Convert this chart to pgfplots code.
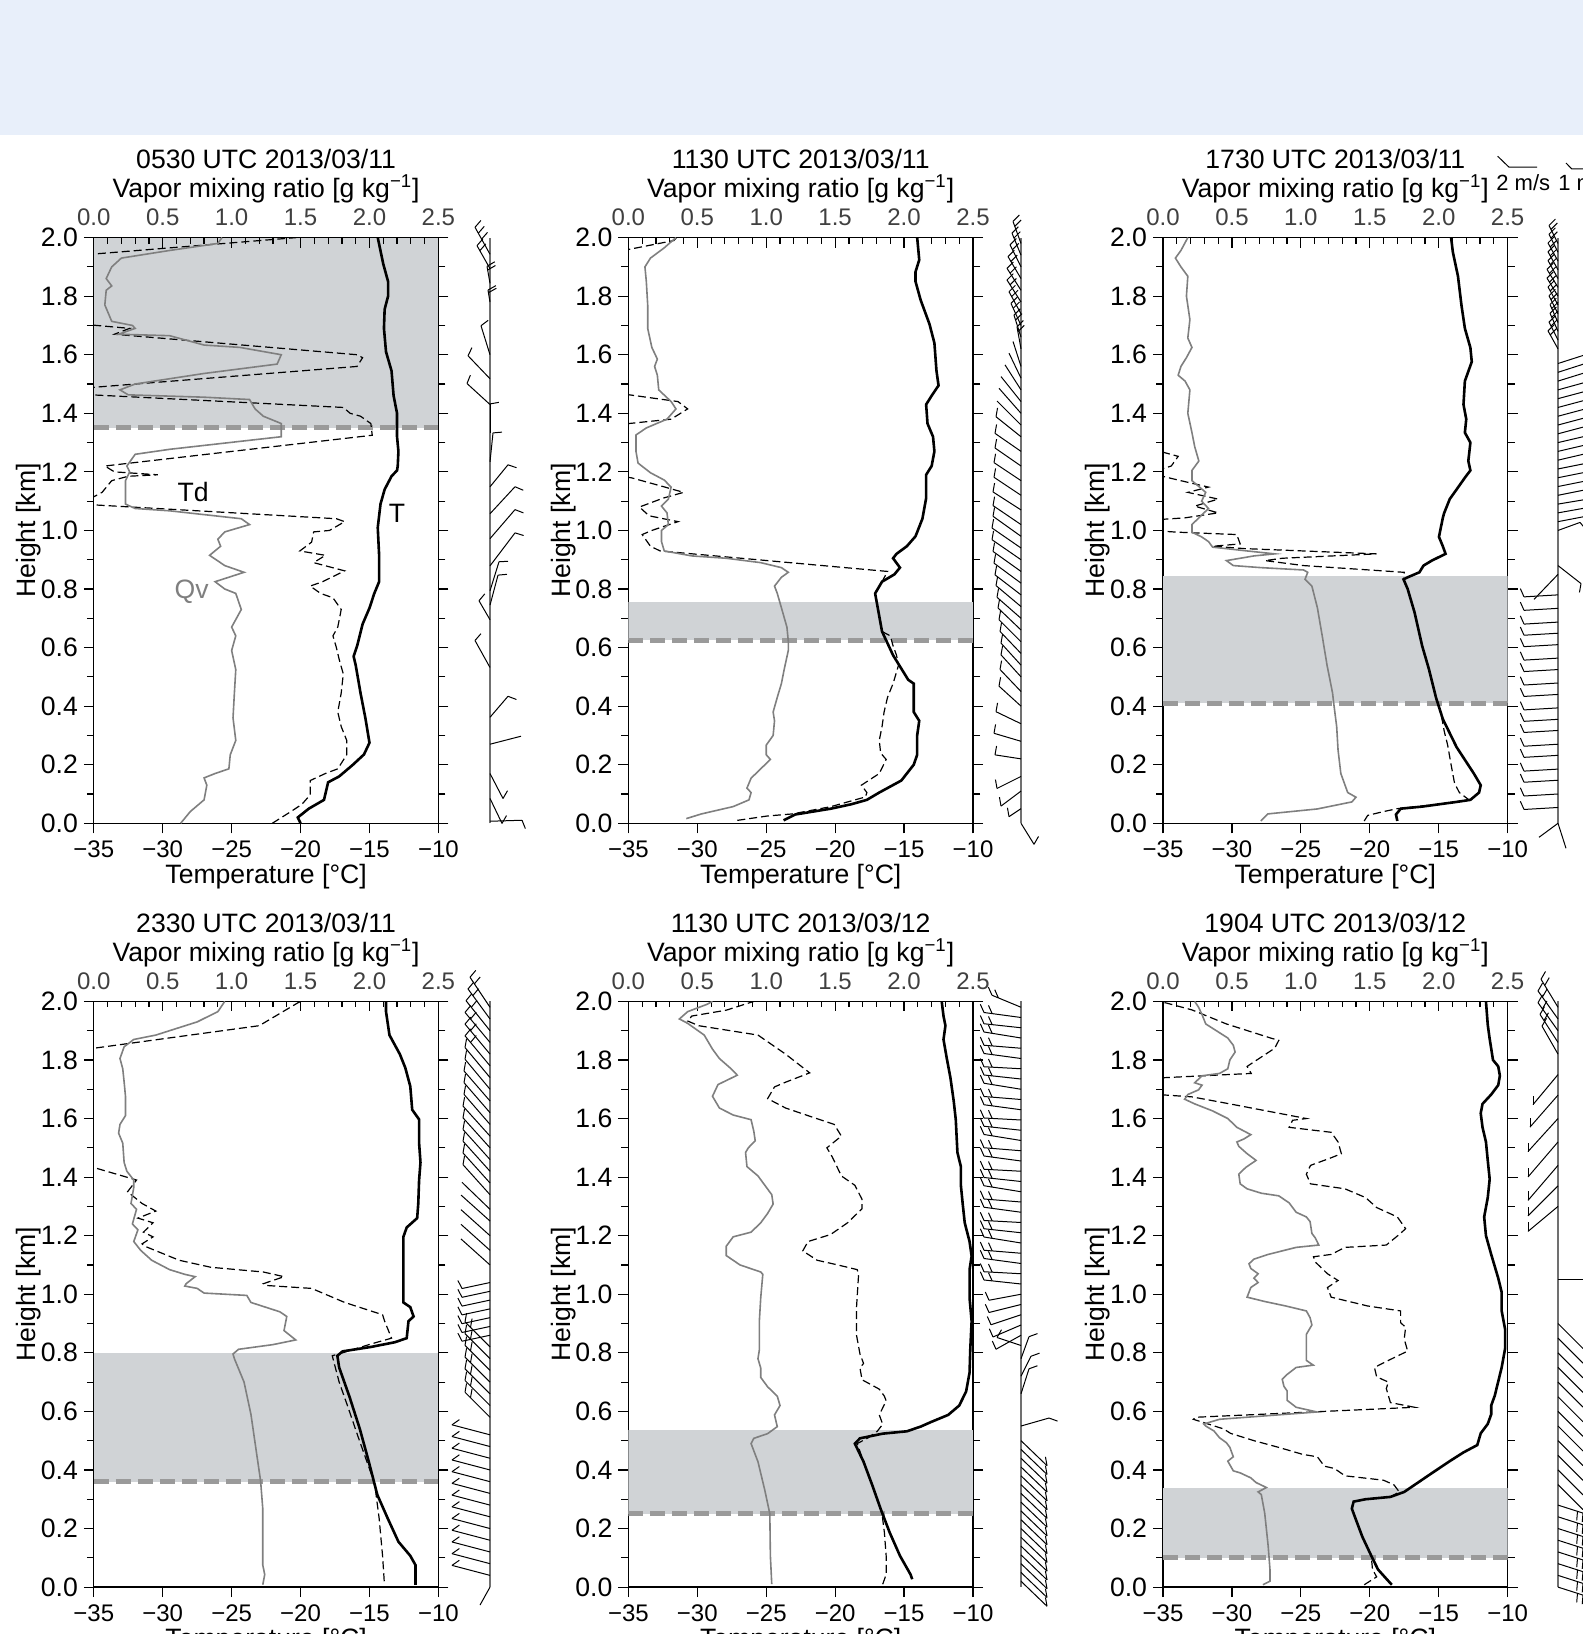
\documentclass[border=0pt]{standalone}
\usepackage{pgfplots}
\pgfplotsset{compat=1.18}
\usepackage{pgfplotstable}
\usepackage{fontspec}
\setmainfont{Liberation Sans}
\definecolor{shade}{HTML}{D0D3D6}
\definecolor{bandline}{HTML}{9A9A9A}
\definecolor{qvcol}{HTML}{7F7F7F}
\definecolor{topband}{HTML}{E8EFFA}
\definecolor{staffcol}{HTML}{707070}

\pgfplotsset{
 every axis title shift=0pt,
 Tax/.style={scale only axis, width=172.3pt, height=292.85pt, anchor=south west,
  xmin=-35, xmax=-10, ymin=0, ymax=2,
  axis line style={line width=0.7pt},
  every tick/.style={black, line width=0.6pt},
  xtick={-35,-30,-25,-20,-15,-10},
  xticklabels={−35,−30,−25,−20,−15,−10},
  ytick={0,0.2,0.4,0.6,0.8,1.0,1.2,1.4,1.6,1.8,2.0},
  yticklabels={0.0,0.2,0.4,0.6,0.8,1.0,1.2,1.4,1.6,1.8,2.0},
  minor ytick={0.1,0.3,0.5,0.7,0.9,1.1,1.3,1.5,1.7,1.9},
  xtick pos=left, ytick pos=both, yticklabel pos=left,
  tick align=outside, major tick length=5pt, minor tick length=3.5pt,
  xticklabel style={font=\fontsize{12}{14}\selectfont, anchor=base, yshift=-12.1pt},
  yticklabel style={anchor=east, inner sep=0pt, xshift=-2.8pt},
  xlabel={Temperature [°C]}, ylabel={Height [km]},
  xlabel style={at={(axis description cs:0.5,-0.1035)}, anchor=base},
  ylabel style={at={(axis description cs:-0.169,0.5)}, anchor=base},
  clip=true},
 Qax/.style={scale only axis, width=172.3pt, height=292.85pt, anchor=south west,
  xmin=0, xmax=2.5, ymin=0, ymax=2,
  axis x line*=top, axis y line=none,
  axis line style={line width=0.7pt},
  every tick/.style={black, line width=0.6pt},
  xtick={0,0.5,1,1.5,2,2.5}, xticklabels={0.0,0.5,1.0,1.5,2.0,2.5},
  minor x tick num=4, tick align=inside, major tick length=5pt, minor tick length=3pt,
  xticklabel style={font=\fontsize{12}{14}\selectfont, text=black!75, anchor=base, yshift=6pt},
  xlabel={Vapor mixing ratio [g kg\textsuperscript{−1}]},
  xlabel style={at={(axis description cs:0.5,1.0676)}, anchor=base},
  title style={at={(axis description cs:0.5,1.1175)}, anchor=base},
  clip=true},
 barbax/.style={scale only axis, width=60pt, height=292.85pt, anchor=south west,
  xmin=-60, xmax=60, ymin=0, ymax=585.7, hide axis, clip=false},
 Tline/.style={black, line width=1.3pt},
 Tdline/.style={black, line width=0.6pt, dash pattern=on 4pt off 2pt},
 Qline/.style={qvcol, line width=0.8pt},
 bandfill/.style={fill=shade, draw=none},
 bandedge/.style={bandline, line width=2.5pt, dash pattern=on 7.5pt off 3.5pt},
 barbline/.style={black, line width=0.5pt},
}

\newcommand\mainpanel[9]{%
 \begin{axis}[Tax, at={(#1,#2)}]
  \addplot[bandfill] coordinates {(-35,#4) (-10,#4) (-10,#5) (-35,#5)} -- cycle;
  \addplot[bandedge] coordinates {(-35,#4) (-10,#4)};
  \addplot[Tdline] coordinates {#7};
  \addplot[Tline] coordinates {#6};
  #9
 \end{axis}
 \begin{axis}[Qax, at={(#1,#2)}, title={#3}]
  \addplot[Qline] coordinates {#8};
 \end{axis}}

\newcommand\barbpanel[3]{%
 \begin{axis}[barbax, at={(#1,#2)}]
  \addplot[staffcol, line width=0.65pt] coordinates {(0,0) (0,585.7)};
  \addplot[barbline, quiver={u=\thisrow{dx}, v=\thisrow{dy}}] table[x expr=0, y expr=\thisrow{h}*292.85] {#3};
  \addplot[barbline, quiver={u={9*cos(\thisrow{fa})}, v={9*sin(\thisrow{fa})}}, restrict expr to domain={\thisrow{nf}}{0.5:10}] table[x expr=\thisrow{dx}, y expr=\thisrow{h}*292.85+\thisrow{dy}] {#3};
  \addplot[barbline, quiver={u={9*cos(\thisrow{fa})}, v={9*sin(\thisrow{fa})}}, restrict expr to domain={\thisrow{nf}}{1.5:10}] table[x expr=0.78*\thisrow{dx}, y expr=\thisrow{h}*292.85+0.78*\thisrow{dy}] {#3};
  \addplot[barbline, quiver={u={9*cos(\thisrow{fa})}, v={9*sin(\thisrow{fa})}}, restrict expr to domain={\thisrow{nf}}{2.5:10}] table[x expr=0.56*\thisrow{dx}, y expr=\thisrow{h}*292.85+0.56*\thisrow{dy}] {#3};
 \end{axis}}

\pgfplotstableread{
h dx dy nf fa
1.943 -15 27 3 49
1.894 -13 23 2 49
1.844 -3 17 2 30
1.78 -2 12 2 29
1.60 -9 29 1 37
1.518 -22 23 1 64
1.43 -23 21 1 68
1.333 0 29 1 10
1.234 3 29 1 5
1.149 18 22 1 -19
1.057 25 27 1 -23
0.972 25 29 1 -21
0.879 25 33 1 -17
0.794 9 29 1 3
0.745 8 30 1 5
0.695 -11 19 1 50
0.532 -15 27 1 49
0.362 18 21 1 -21
0.27 31 8 0 0
0.17 13 -25 1 60
0.085 12 -25 1 60
0.007 32 1 1 -68
}\barbA

\pgfplotstableread{
h dx dy nf fa
1.98 -8 22 2 45
1.94 -9 22 2 45
1.90 -11 22 2 45
1.86 -13 22 2 45
1.82 -14 22 2 45
1.78 -14 22 2 45
1.74 -12 22 2 45
1.70 -10 22 2 45
1.66 -7 22 2 45
1.62 -4 22 2 45
1.56 -8 25 0 0
1.52 -12 25 0 0
1.48 -16 25 0 0
1.44 -20 25 0 0
1.40 -22 25 0 0
1.36 -24 24 0 0
1.32 -25 20 1 80
1.27 -26 18 1 80
1.22 -26 18 1 80
1.17 -27 18 1 80
1.12 -27 18 1 80
1.07 -28 18 1 80
1.02 -28 19 1 80
0.98 -28 20 1 80
0.94 -29 20 1 80
0.90 -29 20 1 80
0.86 -28 20 1 80
0.82 -27 20 1 80
0.78 -26 20 1 80
0.74 -25 21 1 80
0.70 -24 21 1 80
0.66 -23 22 1 80
0.62 -22 22 1 80
0.58 -21 22 1 80
0.54 -20 22 1 80
0.50 -20 22 1 80
0.45 -21 22 1 80
0.40 -22 20 1 80
0.34 -25 12 1 80
0.28 -27 8 1 80
0.22 -26 4 1 80
0.16 -24 -12 1 100
0.11 -20 -15 1 100
0.05 -12 -8 1 100
0.0 13 -21 1 60
}\barbB

\pgfplotstableread{
h dx dy nf fa
1.98 -9 18 2 45
1.95 -9 18 2 45
1.92 -10 18 2 45
1.89 -10 18 2 45
1.86 -10 18 2 45
1.83 -11 18 2 45
1.80 -11 18 2 45
1.77 -10 18 2 45
1.74 -9 18 2 45
1.71 -8 18 2 45
1.68 -8 18 2 45
1.65 -9 18 2 45
1.62 -10 18 2 45
1.57 28 9 1 -50
1.54 28 9 1 -50
1.51 29 9 1 -50
1.48 29 8 1 -50
1.45 30 8 1 -50
1.42 30 8 1 -50
1.39 30 8 1 -50
1.36 30 8 1 -50
1.33 30 8 1 -50
1.30 30 7 1 -50
1.27 30 7 1 -50
1.24 30 7 1 -50
1.21 30 6 1 -50
1.18 30 6 1 -50
1.15 30 6 1 -50
1.12 30 6 1 -50
1.09 30 5 1 -50
1.06 28 5 1 -50
1.03 26 5 1 -50
1.00 22 8 1 -50
0.88 23 -18 1 -100
0.85 -24 -25 0 0
0.78 -34 -2 1 114
0.734 -34 -2 1 114
0.687 -34 -2 1 114
0.649 -34 -2 1 114
0.61 -34 -2 1 114
0.564 -34 -2 1 114
0.525 -34 -2 1 114
0.479 -34 -2 1 114
0.44 -34 -2 1 114
0.394 -34 -2 1 114
0.355 -34 -2 1 114
0.317 -34 -2 1 114
0.27 -34 -2 1 114
0.232 -34 -2 1 114
0.185 -34 -2 1 114
0.147 -34 -2 1 114
0.10 -34 -2 1 114
0.054 -34 -2 1 114
0.0 -19 -14 0 0
0.0 8 -25 0 0
}\barbC

\pgfplotstableread{
h dx dy nf fa
1.98 -20 30 2 50
1.94 -22 30 2 50
1.90 -24 30 2 50
1.86 -25 30 2 50
1.82 -25 30 2 50
1.78 -25 30 2 50
1.74 -25 30 1 80
1.70 -25 30 1 80
1.66 -26 30 1 80
1.62 -26 30 1 80
1.58 -26 30 1 80
1.54 -27 30 1 80
1.50 -27 30 1 80
1.46 -27 30 1 80
1.42 -27 30 1 80
1.38 -27 30 1 80
1.34 -27 30 1 80
1.29 -28 27 0 0
1.25 -29 26 0 0
1.20 -29 26 0 0
1.15 -29 26 0 0
1.10 -29 26 0 0
1.04 -28 -6 1 117
1.01 -28 -6 1 117
0.98 -28 -6 1 117
0.95 -28 -6 1 117
0.92 -28 -6 1 117
0.89 -28 -6 1 117
0.86 -28 -6 1 117
0.82 -25 25 2 80
0.78 -25 25 2 80
0.74 -25 25 2 80
0.70 -25 25 2 80
0.66 -25 25 2 80
0.62 -25 25 2 80
0.58 -25 25 2 80
0.52 -38 10 1 35
0.48 -38 10 1 35
0.44 -38 10 1 35
0.40 -38 10 1 35
0.36 -38 10 1 35
0.32 -38 10 1 35
0.28 -38 10 1 35
0.24 -38 10 1 35
0.20 -38 10 1 35
0.16 -38 10 1 35
0.12 -38 10 1 35
0.08 -38 10 1 35
0.04 -38 10 1 35
0.0 -10 -18 0 0
}\barbD

\pgfplotstableread{
h dx dy nf fa
1.98 -29 12 2 114
1.945 -37 5 2 114
1.91 -37 4 2 114
1.875 -37 6 2 114
1.84 -37 3 2 114
1.805 -37 5 2 114
1.77 -37 2 2 114
1.735 -37 4 2 114
1.70 -37 6 2 114
1.665 -37 3 2 114
1.63 -37 5 2 114
1.595 -37 2 2 114
1.56 -37 4 2 114
1.525 -37 6 2 114
1.49 -37 3 2 114
1.455 -37 5 2 114
1.42 -37 2 2 114
1.385 -37 4 2 114
1.35 -37 6 2 114
1.315 -37 3 2 114
1.28 -37 5 2 114
1.245 -37 2 2 114
1.21 -37 4 2 114
1.175 -37 6 2 114
1.14 -37 3 2 114
1.105 -37 5 2 114
1.07 -37 2 2 114
1.035 -37 4 2 114
1.00 -32 -6 1 114
0.965 -32 -8 1 114
0.93 -30 -10 1 114
0.895 -28 -12 1 114
0.86 -25 -14 1 114
0.825 -24 8 1 60
0.78 8 22 1 20
0.72 10 20 1 20
0.66 8 25 1 20
0.55 28 8 1 -20
0.50 26 -25 1 100
0.47 26 -25 1 100
0.44 26 -25 1 100
0.41 26 -25 1 100
0.38 26 -25 1 100
0.35 26 -25 1 100
0.32 26 -25 1 100
0.29 26 -25 1 100
0.26 26 -25 1 100
0.23 26 -25 1 100
0.20 26 -25 1 100
0.17 26 -25 1 100
0.14 26 -25 1 100
0.11 26 -25 1 100
0.08 26 -25 1 100
0.05 26 -25 1 100
0.02 26 -25 1 100
}\barbE

\pgfplotstableread{
h dx dy nf fa
1.98 -17 28 2 60
1.94 -20 28 2 60
1.90 -20 28 2 60
1.86 -18 28 2 60
1.82 -16 28 1 60
1.75 -25 -30 1 90
1.68 -28 -32 1 90
1.60 -30 -33 1 90
1.52 -30 -35 1 90
1.44 -30 -35 1 90
1.37 -30 -30 1 90
1.30 -30 -25 1 90
1.05 25 0 0 0
0.90 25 -25 1 45
0.85 25 -25 1 45
0.80 25 -25 1 45
0.75 25 -25 1 45
0.70 25 -25 1 45
0.65 25 -25 1 45
0.60 25 -25 1 45
0.55 25 -25 1 45
0.50 25 -25 1 45
0.45 25 -25 1 45
0.40 25 -25 1 45
0.35 25 -25 1 45
0.28 25 -8 2 -95
0.24 25 -8 2 -95
0.20 25 -8 2 -95
0.16 25 -8 2 -95
0.12 25 -8 2 -95
0.08 25 -8 2 -95
0.04 25 -8 2 -95
0.00 25 -8 2 -95
}\barbF

\begin{document}
\begin{tikzpicture}[font=\fontsize{13.3}{16}\selectfont]
\useasboundingbox (0,0) rectangle (791.5pt,817pt);
\fill[topband] (0,749.5pt) rectangle (791.5pt,817pt);

% ---------- Panel 1
\mainpanel{46.9pt}{405.35pt}{0530 UTC 2013/03/11}{1.35}{2.0}
{(-20.0,0.0) (-20.2,0.02) (-19.4,0.05) (-18.3,0.08) (-18.0,0.14) (-17.2,0.16) (-16.2,0.2) (-15.4,0.235) (-15.0,0.275) (-15.3,0.36) (-15.65,0.445) (-16.0,0.54) (-16.15,0.57) (-15.9,0.605) (-15.5,0.68) (-15.0,0.735) (-14.65,0.785) (-14.3,0.825) (-14.3,0.915) (-14.4,1.01) (-14.2,1.09) (-13.9,1.14) (-13.4,1.185) (-13.0,1.205) (-12.95,1.22) (-12.9,1.27) (-13.0,1.32) (-13.0,1.40) (-13.25,1.46) (-13.4,1.545) (-13.8,1.61) (-13.95,1.69) (-13.9,1.755) (-13.65,1.80) (-13.65,1.85) (-14.0,1.91) (-14.4,2.0)}
{(-22.05,0.0) (-20.7,0.04) (-19.9,0.065) (-19.3,0.097) (-19.3,0.146) (-18.2,0.17) (-17.3,0.186) (-16.65,0.234) (-16.65,0.283) (-17.05,0.33) (-17.3,0.38) (-17.05,0.445) (-16.9,0.51) (-17.2,0.56) (-17.4,0.6) (-17.65,0.64) (-17.3,0.67) (-17.05,0.73) (-17.65,0.77) (-18.55,0.785) (-19.3,0.81) (-18.4,0.825) (-16.8,0.862) (-19.05,0.89) (-18.2,0.915) (-20.05,0.93) (-19.2,0.96) (-19.05,0.995) (-17.9,1.0) (-16.8,1.03) (-17.4,1.04) (-36,1.09) (-34.4,1.13) (-33.7,1.17) (-32.5,1.185) (-30.35,1.19) (-33.5,1.2) (-34.2,1.22) (-14.8,1.325) (-14.9,1.365) (-15.65,1.39) (-16.4,1.40) (-16.9,1.42) (-36,1.465) (-36,1.485) (-15.9,1.56) (-15.5,1.59) (-15.9,1.60) (-33.5,1.67) (-32.4,1.69) (-36,1.705) (-36,1.94) (-20.3,2.0)}
{(0.63,0.0) (0.70,0.04) (0.80,0.08) (0.82,0.13) (0.80,0.155) (0.88,0.17) (0.98,0.186) (0.99,0.234) (1.03,0.283) (1.01,0.36) (1.02,0.445) (1.03,0.525) (1.0,0.59) (1.03,0.64) (1.0,0.67) (1.07,0.73) (1.03,0.785) (0.95,0.80) (0.88,0.825) (1.09,0.857) (0.95,0.88) (0.84,0.915) (0.92,0.946) (0.90,0.97) (0.95,0.995) (1.13,1.02) (1.07,1.04) (0.55,1.067) (0.30,1.075) (0.23,1.09) (0.23,1.17) (0.26,1.2) (0.24,1.22) (0.30,1.26) (0.55,1.277) (1.36,1.32) (1.36,1.365) (1.23,1.39) (1.17,1.415) (1.13,1.447) (0.80,1.455) (0.25,1.463) (0.19,1.48) (0.30,1.50) (0.80,1.536) (1.33,1.568) (1.36,1.60) (1.06,1.625) (0.80,1.633) (0.55,1.665) (0.18,1.67) (0.30,1.69) (0.28,1.70) (0.13,1.714) (0.08,1.77) (0.09,1.82) (0.13,1.835) (0.09,1.86) (0.13,1.90) (0.20,1.93) (0.55,1.956) (0.90,1.98) (0.93,2.0)}
{\node at (axis cs:-27.8,1.13) {Td};
 \node at (axis cs:-13.0,1.06) {T};
 \node[text=qvcol] at (axis cs:-27.9,0.79) {Qv};}
\barbpanel{215pt}{405.35pt}{\barbA}

% ---------- Panel 2
\mainpanel{314.2pt}{405.35pt}{1130 UTC 2013/03/11}{0.625}{0.755}
{(-23.74,0.01) (-22.9,0.03) (-20.3,0.05) (-18.83,0.065) (-17.7,0.08) (-16.8,0.105) (-15.2,0.146) (-14.3,0.2) (-14.05,0.234) (-14.05,0.30) (-13.9,0.35) (-14.3,0.38) (-14.3,0.477) (-14.7,0.49) (-15.8,0.574) (-16.6,0.655) (-17.1,0.785) (-16.6,0.825) (-15.7,0.85) (-15.3,0.873) (-15.8,0.905) (-15.55,0.92) (-14.8,0.946) (-14.17,0.98) (-13.67,1.04) (-13.4,1.11) (-13.4,1.19) (-13.0,1.22) (-12.8,1.27) (-12.9,1.32) (-13.3,1.365) (-13.4,1.43) (-13.0,1.46) (-12.5,1.495) (-12.65,1.545) (-12.8,1.64) (-13.16,1.705) (-13.8,1.787) (-14.17,1.85) (-14.17,1.883) (-13.9,1.924) (-14.05,2.0)}
{(-27.1,0.01) (-24.9,0.025) (-23.1,0.032) (-20.3,0.057) (-17.8,0.09) (-17.7,0.105) (-18.1,0.13) (-16.8,0.17) (-16.3,0.218) (-16.7,0.24) (-16.8,0.283) (-16.6,0.33) (-16.45,0.38) (-16.2,0.43) (-15.8,0.477) (-15.4,0.54) (-15.55,0.574) (-15.8,0.606) (-16.0,0.64) (-16.6,0.655) (-17.1,0.785) (-16.6,0.825) (-16.2,0.86) (-32.7,0.93) (-33.4,0.946) (-34.0,0.986) (-33.3,1.0) (-31.4,1.03) (-33.5,1.05) (-34.2,1.08) (-32.5,1.11) (-31.0,1.13) (-32.5,1.15) (-34.8,1.18) (-36,1.185) (-36,1.36) (-31.9,1.38) (-30.7,1.415) (-31.4,1.44) (-36,1.47) (-36,1.95) (-31.7,1.99) (-31.5,2.0)}
{(0.42,0.016) (0.53,0.032) (0.76,0.057) (0.875,0.08) (0.89,0.105) (0.86,0.12) (0.89,0.154) (0.96,0.186) (1.03,0.218) (1.0,0.234) (1.0,0.267) (1.05,0.30) (1.06,0.35) (1.05,0.38) (1.08,0.43) (1.11,0.477) (1.13,0.525) (1.16,0.59) (1.16,0.622) (1.15,0.67) (1.11,0.736) (1.08,0.785) (1.06,0.81) (1.11,0.84) (1.16,0.857) (1.11,0.873) (0.96,0.89) (0.71,0.905) (0.46,0.913) (0.26,0.93) (0.24,0.962) (0.24,1.0) (0.29,1.02) (0.28,1.06) (0.24,1.083) (0.29,1.107) (0.31,1.148) (0.26,1.172) (0.16,1.197) (0.07,1.23) (0.055,1.27) (0.055,1.326) (0.13,1.35) (0.28,1.38) (0.345,1.415) (0.31,1.44) (0.22,1.48) (0.21,1.53) (0.19,1.56) (0.21,1.585) (0.17,1.625) (0.14,1.69) (0.14,1.77) (0.13,1.85) (0.12,1.90) (0.16,1.93) (0.26,1.965) (0.345,2.0)}
{}
\barbpanel{480.5pt}{405.35pt}{\barbB}

% ---------- Panel 3
\mainpanel{581.5pt}{405.35pt}{1730 UTC 2013/03/11}{0.41}{0.845}
{(-18.0,0.008) (-18.1,0.03) (-17.75,0.05) (-16.2,0.057) (-13.7,0.073) (-12.7,0.08) (-12.07,0.105) (-11.95,0.13) (-12.45,0.17) (-13.7,0.26) (-14.7,0.356) (-15.2,0.43) (-15.7,0.525) (-16.2,0.606) (-16.75,0.72) (-17.25,0.80) (-17.55,0.833) (-17.25,0.84) (-16.4,0.857) (-16.1,0.88) (-15.5,0.897) (-14.5,0.92) (-14.7,0.946) (-14.98,0.978) (-14.7,1.043) (-14.6,1.06) (-14.2,1.107) (-13.7,1.14) (-13.1,1.18) (-12.7,1.205) (-12.85,1.237) (-12.7,1.30) (-13.1,1.334) (-13.0,1.38) (-13.2,1.43) (-13.1,1.51) (-12.6,1.576) (-12.7,1.624) (-13.1,1.69) (-13.35,1.77) (-13.6,1.868) (-13.97,1.95) (-14.1,2.0)}
{(-20.4,0.008) (-20.15,0.027) (-19.0,0.04) (-18.0,0.05) (-15.0,0.065) (-12.8,0.08) (-13.5,0.105) (-13.85,0.137) (-14.1,0.2) (-14.35,0.267) (-14.6,0.315) (-14.85,0.38) (-15.2,0.43) (-15.7,0.525) (-16.2,0.606) (-16.75,0.72) (-17.25,0.80) (-17.55,0.833) (-17.5,0.857) (-24.8,0.88) (-27.6,0.897) (-26.35,0.905) (-19.5,0.92) (-29.1,0.938) (-31.4,0.946) (-29.4,0.954) (-29.65,0.986) (-33.9,0.994) (-36,1.0) (-36,1.035) (-33.4,1.043) (-31.0,1.06) (-32.7,1.083) (-31.0,1.107) (-33.2,1.13) (-31.7,1.148) (-33.9,1.172) (-36,1.196) (-34.4,1.22) (-33.9,1.253) (-36,1.28)}
{(0.71,0.008) (0.76,0.032) (1.12,0.049) (1.37,0.073) (1.40,0.089) (1.34,0.105) (1.29,0.17) (1.27,0.25) (1.26,0.33) (1.24,0.404) (1.23,0.445) (1.19,0.54) (1.155,0.64) (1.12,0.736) (1.08,0.81) (1.03,0.833) (1.05,0.857) (1.02,0.865) (0.71,0.873) (0.51,0.88) (0.46,0.897) (0.66,0.913) (0.81,0.92) (0.61,0.93) (0.36,0.943) (0.33,0.962) (0.28,0.978) (0.21,0.994) (0.21,1.02) (0.26,1.043) (0.33,1.075) (0.28,1.10) (0.31,1.13) (0.21,1.17) (0.21,1.205) (0.26,1.237) (0.23,1.286) (0.21,1.334) (0.18,1.40) (0.195,1.48) (0.16,1.51) (0.11,1.53) (0.13,1.56) (0.17,1.59) (0.21,1.625) (0.18,1.657) (0.195,1.72) (0.17,1.80) (0.18,1.868) (0.13,1.90) (0.09,1.93) (0.13,1.956) (0.18,2.0)}
{}
\barbpanel{749pt}{405.35pt}{\barbC}

% ---------- Panel 4
\mainpanel{46.9pt}{23.45pt}{2330 UTC 2013/03/11}{0.36}{0.80}
{(-11.66,0.008) (-11.66,0.075) (-12.04,0.107) (-12.9,0.155) (-13.68,0.235) (-14.43,0.315) (-15.06,0.43) (-15.7,0.54) (-16.45,0.65) (-17.2,0.75) (-17.33,0.79) (-16.95,0.805) (-14.9,0.82) (-13.17,0.836) (-12.3,0.85) (-12.17,0.908) (-11.8,0.924) (-12.04,0.956) (-12.54,0.972) (-12.54,1.068) (-12.54,1.196) (-12.3,1.228) (-11.54,1.26) (-11.46,1.31) (-11.4,1.39) (-11.3,1.45) (-11.4,1.516) (-11.4,1.597) (-11.9,1.63) (-12.04,1.71) (-12.4,1.773) (-12.8,1.82) (-13.55,1.885) (-13.8,1.965) (-13.8,2.0)}
{(-13.93,0.02) (-14.05,0.107) (-14.3,0.235) (-14.56,0.33) (-14.7,0.364) (-15.2,0.43) (-15.8,0.51) (-16.6,0.62) (-17.2,0.70) (-17.7,0.79) (-16.95,0.80) (-14.9,0.83) (-13.4,0.85) (-13.9,0.908) (-14.05,0.93) (-16.8,0.972) (-19.2,1.02) (-22.5,1.03) (-22.7,1.036) (-21.2,1.06) (-22.7,1.076) (-26.5,1.092) (-28.8,1.116) (-31.3,1.164) (-31.5,1.172) (-30.7,1.196) (-31.4,1.212) (-30.7,1.244) (-31.8,1.26) (-30.5,1.284) (-31.5,1.31) (-32.55,1.35) (-31.9,1.39) (-34.8,1.43) (-36,1.44) (-36,1.83) (-35,1.84) (-28,1.885) (-23,1.917) (-20.2,1.995) (-20.0,2.0)}
{(1.226,0.008) (1.24,0.043) (1.226,0.075) (1.226,0.267) (1.21,0.363) (1.18,0.46) (1.14,0.59) (1.09,0.70) (1.02,0.78) (1.01,0.796) (1.05,0.812) (1.30,0.828) (1.465,0.844) (1.38,0.876) (1.40,0.924) (1.35,0.94) (1.14,0.972) (1.11,0.996) (0.80,1.004) (0.75,1.02) (0.66,1.028) (0.67,1.036) (0.735,1.06) (0.66,1.068) (0.55,1.084) (0.42,1.116) (0.34,1.15) (0.29,1.18) (0.32,1.22) (0.28,1.24) (0.31,1.29) (0.27,1.31) (0.29,1.365) (0.29,1.39) (0.24,1.42) (0.22,1.45) (0.21,1.516) (0.18,1.55) (0.19,1.58) (0.23,1.61) (0.23,1.675) (0.22,1.725) (0.21,1.77) (0.19,1.805) (0.22,1.845) (0.29,1.87) (0.45,1.885) (0.55,1.90) (0.75,1.93) (0.90,1.965) (0.95,2.0)}
{}
\barbpanel{215pt}{23.45pt}{\barbD}

% ---------- Panel 5
\mainpanel{314.2pt}{23.45pt}{1130 UTC 2013/03/12}{0.25}{0.535}
{(-14.41,0.027) (-14.53,0.043) (-15.3,0.107) (-16.05,0.187) (-16.7,0.267) (-17.3,0.347) (-17.94,0.428) (-18.57,0.49) (-18.2,0.508) (-16.55,0.524) (-14.8,0.532) (-13.8,0.548) (-13.03,0.564) (-11.8,0.588) (-11.0,0.62) (-10.5,0.668) (-10.25,0.732) (-10.2,0.81) (-10.1,0.908) (-10.25,0.988) (-10.25,1.084) (-10.1,1.13) (-10.25,1.18) (-10.6,1.244) (-10.75,1.31) (-10.88,1.372) (-10.88,1.436) (-11.13,1.484) (-11.25,1.596) (-11.4,1.66) (-11.64,1.74) (-11.9,1.805) (-12.14,1.87) (-12.0,1.917) (-12.14,1.95) (-12.27,2.0)}
{(-16.55,0.01) (-16.3,0.043) (-16.3,0.107) (-16.43,0.187) (-16.6,0.25) (-16.7,0.267) (-17.3,0.347) (-17.94,0.428) (-18.4,0.49) (-17.6,0.51) (-16.95,0.532) (-16.55,0.556) (-16.8,0.588) (-16.3,0.636) (-16.43,0.652) (-16.8,0.676) (-18.05,0.708) (-18.2,0.748) (-17.94,0.764) (-18.2,0.796) (-18.45,0.86) (-18.45,0.956) (-18.3,1.068) (-18.4,1.084) (-19.8,1.10) (-21.3,1.116) (-22.35,1.148) (-21.97,1.18) (-20.33,1.204) (-19.1,1.244) (-18.05,1.292) (-18.05,1.324) (-18.57,1.372) (-19.55,1.404) (-20.2,1.468) (-20.6,1.50) (-19.55,1.54) (-20.07,1.58) (-21.6,1.604) (-23.6,1.636) (-24.9,1.668) (-24.4,1.708) (-23.6,1.724) (-21.85,1.756) (-23.6,1.82) (-25.6,1.885) (-29.9,1.917) (-30.7,1.933) (-30.4,1.95) (-27.9,1.97) (-25.9,2.0)}
{(1.04,0.01) (1.03,0.107) (1.026,0.25) (0.99,0.33) (0.94,0.428) (0.89,0.49) (0.91,0.508) (1.01,0.524) (1.08,0.548) (1.06,0.588) (1.10,0.62) (1.08,0.652) (1.01,0.684) (0.96,0.716) (0.96,0.748) (0.94,0.78) (0.95,0.81) (0.95,0.908) (0.96,0.988) (0.975,1.068) (0.96,1.076) (0.81,1.10) (0.71,1.132) (0.71,1.164) (0.76,1.196) (0.89,1.212) (0.96,1.244) (1.01,1.276) (1.05,1.308) (1.04,1.34) (0.99,1.372) (0.94,1.404) (0.86,1.436) (0.85,1.484) (0.87,1.50) (0.92,1.524) (0.91,1.556) (0.89,1.596) (0.76,1.612) (0.66,1.636) (0.61,1.676) (0.65,1.716) (0.79,1.748) (0.74,1.772) (0.66,1.805) (0.61,1.837) (0.55,1.885) (0.43,1.925) (0.37,1.94) (0.43,1.965) (0.57,1.99) (0.61,2.0)}
{}
\barbpanel{480.5pt}{23.45pt}{\barbE}

% ---------- Panel 6
\mainpanel{581.5pt}{23.45pt}{1904 UTC 2013/03/12}{0.10}{0.34}
{(-18.4,0.008) (-18.77,0.027) (-19.4,0.06) (-19.9,0.108) (-20.54,0.172) (-21.05,0.236) (-21.3,0.268) (-21.17,0.292) (-20.3,0.30) (-18.5,0.308) (-17.5,0.325) (-16.75,0.349) (-15.5,0.389) (-14.2,0.43) (-13.2,0.46) (-12.2,0.485) (-11.95,0.525) (-11.44,0.557) (-11.19,0.59) (-11.19,0.62) (-10.93,0.654) (-10.43,0.75) (-10.18,0.815) (-10.18,0.88) (-10.43,0.943) (-10.43,1.007) (-10.68,1.055) (-11.19,1.136) (-11.57,1.20) (-11.7,1.264) (-11.44,1.33) (-11.3,1.393) (-11.44,1.457) (-11.57,1.52) (-11.82,1.57) (-11.95,1.618) (-11.82,1.65) (-11.19,1.682) (-10.68,1.714) (-10.56,1.746) (-10.68,1.778) (-11.06,1.80) (-11.31,1.875) (-11.44,1.92) (-11.57,2.0)}
{(-20.4,0.008) (-19.5,0.035) (-19.8,0.06) (-19.9,0.108) (-20.54,0.172) (-21.05,0.236) (-21.3,0.268) (-21.17,0.292) (-20.3,0.30) (-18.5,0.308) (-17.86,0.325) (-18.24,0.349) (-19.0,0.365) (-21.8,0.38) (-22.56,0.405) (-23.3,0.413) (-23.8,0.445) (-24.85,0.453) (-26.6,0.477) (-28.4,0.50) (-30.1,0.525) (-30.6,0.54) (-32.8,0.573) (-32.6,0.58) (-16.75,0.614) (-18.5,0.63) (-18.8,0.678) (-18.65,0.70) (-19.5,0.718) (-19.66,0.75) (-18.65,0.774) (-17.25,0.806) (-17.5,0.847) (-17.4,0.887) (-17.76,0.903) (-17.76,0.943) (-20.16,0.96) (-22.8,0.99) (-23.07,1.023) (-22.3,1.047) (-23.07,1.07) (-23.95,1.11) (-24.08,1.128) (-22.8,1.136) (-21.8,1.16) (-18.8,1.168) (-17.76,1.208) (-17.4,1.224) (-18.0,1.264) (-19.5,1.296) (-20.3,1.33) (-21.8,1.36) (-24.3,1.377) (-24.6,1.41) (-24.3,1.44) (-22.8,1.466) (-22.06,1.48) (-22.3,1.52) (-22.8,1.553) (-25.85,1.57) (-25.6,1.594) (-24.6,1.60) (-30.15,1.65) (-32.9,1.674) (-36,1.684) (-36,1.737) (-28.6,1.754) (-28.9,1.778) (-26.9,1.84) (-26.6,1.867) (-27.2,1.875) (-30.4,1.923) (-32.9,1.971) (-34.8,1.995) (-36,2.0)}
{(0.725,0.008) (0.776,0.02) (0.776,0.06) (0.763,0.14) (0.738,0.252) (0.713,0.316) (0.69,0.325) (0.75,0.34) (0.675,0.357) (0.637,0.373) (0.56,0.39) (0.51,0.397) (0.47,0.43) (0.51,0.445) (0.485,0.477) (0.46,0.493) (0.41,0.51) (0.37,0.533) (0.31,0.55) (0.296,0.557) (0.41,0.573) (1.117,0.598) (0.966,0.614) (0.90,0.638) (0.90,0.67) (0.877,0.686) (0.865,0.71) (0.90,0.726) (0.966,0.75) (1.09,0.758) (1.04,0.774) (1.04,0.815) (1.04,0.863) (1.08,0.895) (1.067,0.92) (1.04,0.943) (0.89,0.96) (0.74,0.975) (0.61,0.99) (0.637,1.023) (0.69,1.04) (0.66,1.055) (0.69,1.07) (0.637,1.088) (0.624,1.104) (0.66,1.12) (0.763,1.136) (0.966,1.16) (1.13,1.168) (1.105,1.192) (1.08,1.208) (1.067,1.248) (1.04,1.264) (0.966,1.28) (0.915,1.312) (0.89,1.32) (0.84,1.336) (0.713,1.345) (0.61,1.36) (0.56,1.377) (0.55,1.41) (0.60,1.433) (0.675,1.457) (0.61,1.48) (0.55,1.505) (0.536,1.52) (0.586,1.53) (0.637,1.545) (0.536,1.57) (0.47,1.60) (0.36,1.626) (0.23,1.65) (0.157,1.666) (0.18,1.682) (0.258,1.698) (0.283,1.714) (0.23,1.722) (0.283,1.746) (0.41,1.754) (0.47,1.77) (0.485,1.80) (0.523,1.827) (0.51,1.85) (0.47,1.875) (0.31,1.923) (0.283,1.955) (0.258,1.98) (0.23,2.0)}
{}
\barbpanel{749pt}{23.45pt}{\barbF}

% wind barb key
\draw[line width=0.5pt] (748.8pt,738.9pt) -- (754.5pt,733.4pt) -- (768.5pt,733.4pt);
\draw[line width=0.5pt] (783pt,735.5pt) -- (785.8pt,732.6pt) -- (795pt,732.6pt);
\node[anchor=base west, inner sep=0pt, font=\fontsize{11}{13}\selectfont] at (748pt,721.5pt) {2 m/s};
\node[anchor=base west, inner sep=0pt, font=\fontsize{11}{13}\selectfont] at (779pt,721.5pt) {1 m/s};
\end{tikzpicture}
\end{document}
